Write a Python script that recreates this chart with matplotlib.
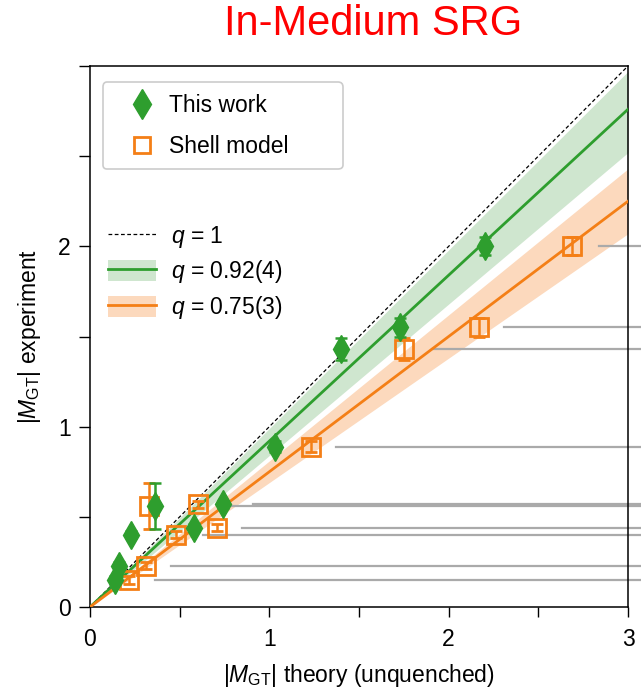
import matplotlib
matplotlib.use("Agg")
import matplotlib.pyplot as plt
from matplotlib.lines import Line2D
from matplotlib.patches import Patch
import numpy as np

plt.rcParams['font.family'] = ['Liberation Sans', 'DejaVu Sans']
plt.rcParams['mathtext.fontset'] = 'custom'
plt.rcParams['mathtext.rm'] = 'Liberation Sans'
plt.rcParams['mathtext.it'] = 'Liberation Sans:italic'

# Data
exp_vals = [0.15, 0.23, 0.40, 0.44, 0.56, 0.57, 0.89, 1.43, 1.55, 2.00]
exp_err = [0.02, 0.02, 0.02, 0.02, 0.13, 0.02, 0.03, 0.06, 0.05, 0.05]
this_work = [0.14, 0.16, 0.23, 0.58, 0.36, 0.74, 1.03, 1.40, 1.73, 2.20]
shell_model = [0.22, 0.31, 0.48, 0.71, 0.33, 0.60, 1.23, 1.75, 2.17, 2.69]
gray_start = [0.36, 0.45, 0.63, 0.85, 0.76, 0.91, 1.37, 1.91, 2.31, 2.84]
q_green, q_green_lo, q_green_hi = 0.92, 0.84, 0.99
q_orange, q_orange_lo, q_orange_hi = 0.75, 0.69, 0.81

green = '#2e9e2e'
orange = '#f47f16'
green_band = '#cfe6cf'
orange_band = '#fcd9bd'
FS = 16.5

fig = plt.figure(figsize=(6.41, 6.93), dpi=100)
ax = fig.add_axes([90/641, 86/693, 538/641, 541/693])

xs = np.array([0, 3])
ax.fill_between(xs, q_green_lo*xs, q_green_hi*xs, color=green_band, lw=0, zorder=1)
ax.fill_between(xs, q_orange_lo*xs, q_orange_hi*xs, color=orange_band, lw=0, zorder=1)
ax.plot(xs, xs, ls=(0, (3, 2)), color='black', lw=0.9, zorder=3)
ax.plot(xs, q_green*xs, color=green, lw=2, zorder=3)
ax.plot(xs, q_orange*xs, color=orange, lw=2, zorder=3)

for y, x0 in zip(exp_vals, gray_start):
    ax.plot([x0, 3.2], [y, y], color='#aaaaaa', lw=1.6, clip_on=False, zorder=2)

ax.errorbar(shell_model, exp_vals, yerr=exp_err, fmt='s', mfc='none', mec=orange,
            mew=2, ms=13, ecolor=orange, elinewidth=1.8, capsize=4, capthick=1.8, zorder=5)
ax.errorbar(this_work, exp_vals, yerr=exp_err, fmt='d', color=green, mec=green,
            ms=14, ecolor=green, elinewidth=1.8, capsize=4, capthick=1.8, zorder=6)

ax.set_xlim(0, 3)
ax.set_ylim(0, 3)
ax.set_xticks([0, 1, 2, 3])
ax.set_yticks([0, 1, 2, 3])
ax.set_yticklabels(['0', '1', '2', ''])
ax.set_xticks([0.5, 1.5, 2.5], minor=True)
ax.set_yticks([0.5, 1.5, 2.5], minor=True)
ax.tick_params(which='both', direction='out', length=7, width=1, labelsize=FS)
ax.tick_params(axis='y', which='both', length=8, pad=6)
ax.tick_params(axis='x', pad=8)
for s in ax.spines.values():
    s.set_linewidth(1.1)

ax.set_xlabel(r'|$M_{\rm GT}$| theory (unquenched)', fontsize=FS, labelpad=8)
ax.set_ylabel(r'|$M_{\rm GT}$| experiment', fontsize=FS, labelpad=11)

h1 = Line2D([], [], marker='d', color=green, ls='none', ms=15)
h2 = Line2D([], [], marker='s', mfc='none', mec=orange, mew=2, ls='none', ms=12)
leg1 = ax.legend([h1, h2], ['This work', 'Shell model'], loc='upper left',
                 bbox_to_anchor=(0.024, 0.75, 0.446, 0.22), mode='expand',
                 borderaxespad=0, fontsize=FS,
                 frameon=True, fancybox=True, edgecolor='#cccccc', framealpha=1,
                 handletextpad=0.0, borderpad=0.5, labelspacing=0.8, handlelength=2.4)
leg1.get_frame().set_linewidth(1.2)
ax.add_artist(leg1)

hq1 = Line2D([], [], ls=(0, (3, 2)), color='black', lw=0.9)
hq2 = (Patch(facecolor=green_band, edgecolor='none'), Line2D([], [], color=green, lw=2))
hq3 = (Patch(facecolor=orange_band, edgecolor='none'), Line2D([], [], color=orange, lw=2))
ax.legend([hq1, hq2, hq3], [r'$q$ = 1', r'$q$ = 0.92(4)', r'$q$ = 0.75(3)'],
          loc='upper left', bbox_to_anchor=(0.025, 0.717), borderaxespad=0,
          borderpad=0.2, frameon=False, fontsize=FS, handlelength=2.1,
          handletextpad=0.65, labelspacing=0.38, handleheight=1.0)

fig.text(373/641, 1 - 24/693, 'In-Medium SRG', color='red', fontsize=30,
         ha='center', va='center')

fig.savefig('out.png', dpi=100)
